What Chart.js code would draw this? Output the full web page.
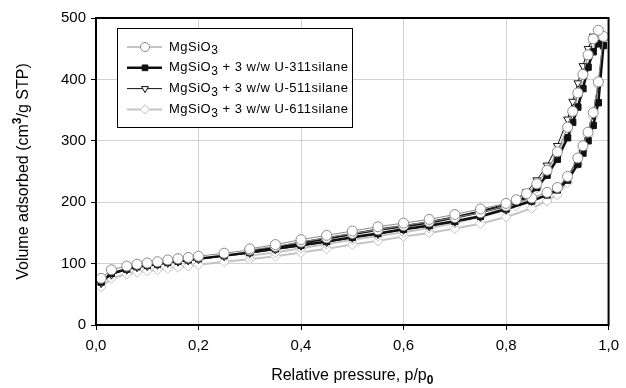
<!DOCTYPE html>
<html>
<head>
<meta charset="utf-8">
<script src="https://cdn.jsdelivr.net/npm/chart.js@4/dist/chart.umd.min.js"></script>
<style>
  html, body { margin: 0; padding: 0; background: #fff; }
  #wrap { width: 626px; height: 388px; }
</style>
</head>
<body>
<div id="wrap"><canvas id="myChart" width="626" height="388"></canvas></div>
<script>
// relative pressure points, adsorption then desorption branch
const pAds = [0.01, 0.03, 0.06, 0.08, 0.10, 0.12, 0.14, 0.16, 0.18, 0.20, 0.25, 0.30, 0.35, 0.40, 0.45, 0.50,
  0.55, 0.60, 0.65, 0.70, 0.75, 0.80, 0.85, 0.88, 0.90, 0.92, 0.94, 0.95, 0.96, 0.97, 0.98, 0.99];
const pDes = [0.98, 0.97, 0.96, 0.95, 0.94, 0.93, 0.92, 0.90, 0.88, 0.86, 0.84, 0.82, 0.80, 0.75, 0.70, 0.65,
  0.60, 0.55, 0.50, 0.45, 0.40, 0.35, 0.30];

const mgAds = [76, 90, 96, 99, 101, 103, 106, 108, 110, 112, 117, 122, 128, 135, 142, 149,
  155, 162, 168, 175, 183, 194, 207, 216, 224, 242, 272, 292, 314, 346, 396, 470];
const mgDes = [480, 466, 440, 408, 378, 348, 322, 282, 252, 230, 214, 204, 198, 189, 180, 172,
  166, 160, 153, 146, 139, 131, 124];

const u311Ads = [70, 84, 91, 95, 97, 99, 102, 104, 106, 108, 113, 118, 124, 130, 136, 143,
  149, 156, 162, 169, 177, 189, 202, 212, 220, 236, 262, 280, 300, 325, 362, 455];
const u311Des = [458, 445, 420, 385, 355, 330, 305, 270, 244, 224, 209, 200, 194, 184, 175, 167,
  161, 155, 148, 141, 134, 126, 120];

const u511Ads = [68, 82, 90, 94, 96, 98, 101, 103, 105, 107, 112, 117, 123, 129, 135, 142,
  148, 155, 161, 168, 176, 188, 202, 213, 222, 240, 270, 290, 312, 342, 392, 468];
const u511Des = [478, 470, 450, 422, 394, 364, 335, 292, 260, 236, 217, 205, 197, 186, 176, 168,
  161, 155, 148, 141, 134, 127, 121];

const u611Ads = [62, 76, 83, 86, 88, 90, 92, 94, 96, 98, 103, 107, 112, 118, 124, 131,
  137, 144, 150, 157, 165, 176, 190, 202, 212, 232, 262, 284, 308, 338, 390, 465];
const u611Des = [472, 460, 435, 402, 372, 342, 315, 276, 246, 223, 206, 194, 187, 176, 166, 158,
  151, 145, 139, 132, 125, 118, 113];

const labels = [
  "MgSiO₃",
  "MgSiO₃ + 3 w/w U-311silane",
  "MgSiO₃ + 3 w/w U-511silane",
  "MgSiO₃ + 3 w/w U-611silane"
];

function pts(ads, des) {
  const a = pAds.map((p, i) => ({ x: p, y: ads[i] }));
  const d = pDes.map((p, i) => ({ x: p, y: des[i] }));
  return a.concat(d);
}

const styles = [
  { color: "#8a8a8a", line: 1, pointStyle: "circle", radius: 5, fill: "#fff", rotation: 0 },
  { color: "#111", line: 2.5, pointStyle: "rect", radius: 4.5, fill: "#111", rotation: 0 },
  { color: "#111", line: 1, pointStyle: "triangle", radius: 4.5, fill: "#fff", rotation: 180 },
  { color: "#c4c4c4", line: 2, pointStyle: "rectRot", radius: 5, fill: "#fff", rotation: 0 }
];

const series = [pts(mgAds, mgDes), pts(u311Ads, u311Des), pts(u511Ads, u511Des), pts(u611Ads, u611Des)];

const FONT = "'Liberation Sans', Arial, sans-serif";

// draws text pieces in a row; pieces: [text, size, dy, bold]
function drawPieces(ctx, pieces, x, y, align) {
  let total = 0;
  pieces.forEach(p => {
    ctx.font = (p[3] ? "bold " : "") + p[1] + "px " + FONT;
    total += ctx.measureText(p[0]).width;
  });
  let cx = align === "center" ? x - total / 2 : x;
  pieces.forEach(p => {
    ctx.font = (p[3] ? "bold " : "") + p[1] + "px " + FONT;
    ctx.fillText(p[0], cx, y + p[2]);
    cx += ctx.measureText(p[0]).width;
  });
}

const frameAndLegend = {
  id: "frameAndLegend",
  afterDraw(chart) {
    const { ctx, chartArea: a } = chart;
    ctx.save();
    ctx.strokeStyle = "#000";
    ctx.lineWidth = 2;
    ctx.strokeRect(a.left, a.top, a.right - a.left, a.bottom - a.top);

    // axis titles
    ctx.fillStyle = "#000";
    ctx.textAlign = "left";
    ctx.textBaseline = "alphabetic";
    drawPieces(ctx, [["Relative pressure, p/p", 16, 0, false], ["0", 12, 4, true]], (a.left + a.right) / 2, 380, "center");
    ctx.save();
    ctx.translate(28, (a.top + a.bottom) / 2);
    ctx.rotate(-Math.PI / 2);
    drawPieces(ctx, [["Volume adsorbed (cm", 16, 0, false], ["3", 12, -7, true], ["/g STP)", 16, 0, false]], 0, 0, "center");
    ctx.restore();

    // legend box
    const bx = 117, by = 28, bw = 235, bh = 99;
    ctx.fillStyle = "#fff";
    ctx.fillRect(bx, by, bw, bh);
    ctx.lineWidth = 1;
    ctx.strokeStyle = "#000";
    ctx.strokeRect(bx + 0.5, by + 0.5, bw, bh);

    labels.forEach((lab, i) => {
      const s = styles[i];
      const y = 47 + i * 20.8;
      ctx.strokeStyle = s.color;
      ctx.lineWidth = s.line;
      ctx.beginPath();
      ctx.moveTo(127, y);
      ctx.lineTo(162, y);
      ctx.stroke();
      ctx.fillStyle = s.fill;
      ctx.lineWidth = 1;
      Chart.helpers.drawPoint(ctx, { pointStyle: s.pointStyle, rotation: s.rotation, radius: s.radius - 0.5, borderWidth: 1 }, 145, y);

      // text with subscript 3
      ctx.fillStyle = "#000";
      ctx.textBaseline = "middle";
      ctx.textAlign = "left";
      ctx.letterSpacing = "0.5px";
      const parts = lab.split("₃");
      const pieces = [[parts[0], 13, 0, false], ["3", 12, 4, false]];
      if (parts[1]) pieces.push([parts[1], 13, 0, false]);
      drawPieces(ctx, pieces, 169, y, "left");
      ctx.letterSpacing = "0px";
    });
    ctx.restore();
  }
};

new Chart(document.getElementById("myChart"), {
  type: "scatter",
  data: {
    datasets: series.map((data, i) => ({
      label: labels[i],
      data: data,
      showLine: true,
      tension: 0,
      borderColor: styles[i].color,
      borderWidth: styles[i].line,
      pointStyle: styles[i].pointStyle,
      pointRotation: styles[i].rotation,
      pointRadius: styles[i].radius,
      pointBorderWidth: 1,
      pointBorderColor: styles[i].color,
      pointBackgroundColor: styles[i].fill
    }))
  },
  options: {
    responsive: false,
    animation: false,
    layout: { padding: { left: 0, right: 10, top: 18, bottom: 0 } },
    plugins: {
      legend: { display: false },
      tooltip: { enabled: false }
    },
    scales: {
      x: {
        type: "linear",
        min: 0,
        max: 1,
        afterFit(scale) { scale.height = 63; },
        ticks: {
          stepSize: 0.2,
          color: "#000",
          padding: 7,
          font: { family: FONT, size: 15 },
          callback: (v) => v.toFixed(1).replace(".", ",")
        },
        grid: { color: "#d2d2d2", tickColor: "#000", tickLength: 5 },
        border: { color: "#000", width: 2 }
      },
      y: {
        min: 0,
        max: 500,
        afterFit(scale) { scale.width = 96; },
        ticks: {
          stepSize: 100,
          color: "#000",
          padding: 5,
          font: { family: FONT, size: 15 }
        },
        grid: { color: "#d2d2d2", tickColor: "#000", tickLength: 5 },
        border: { color: "#000", width: 2 }
      }
    }
  },
  plugins: [frameAndLegend]
});
</script>
</body>
</html>
